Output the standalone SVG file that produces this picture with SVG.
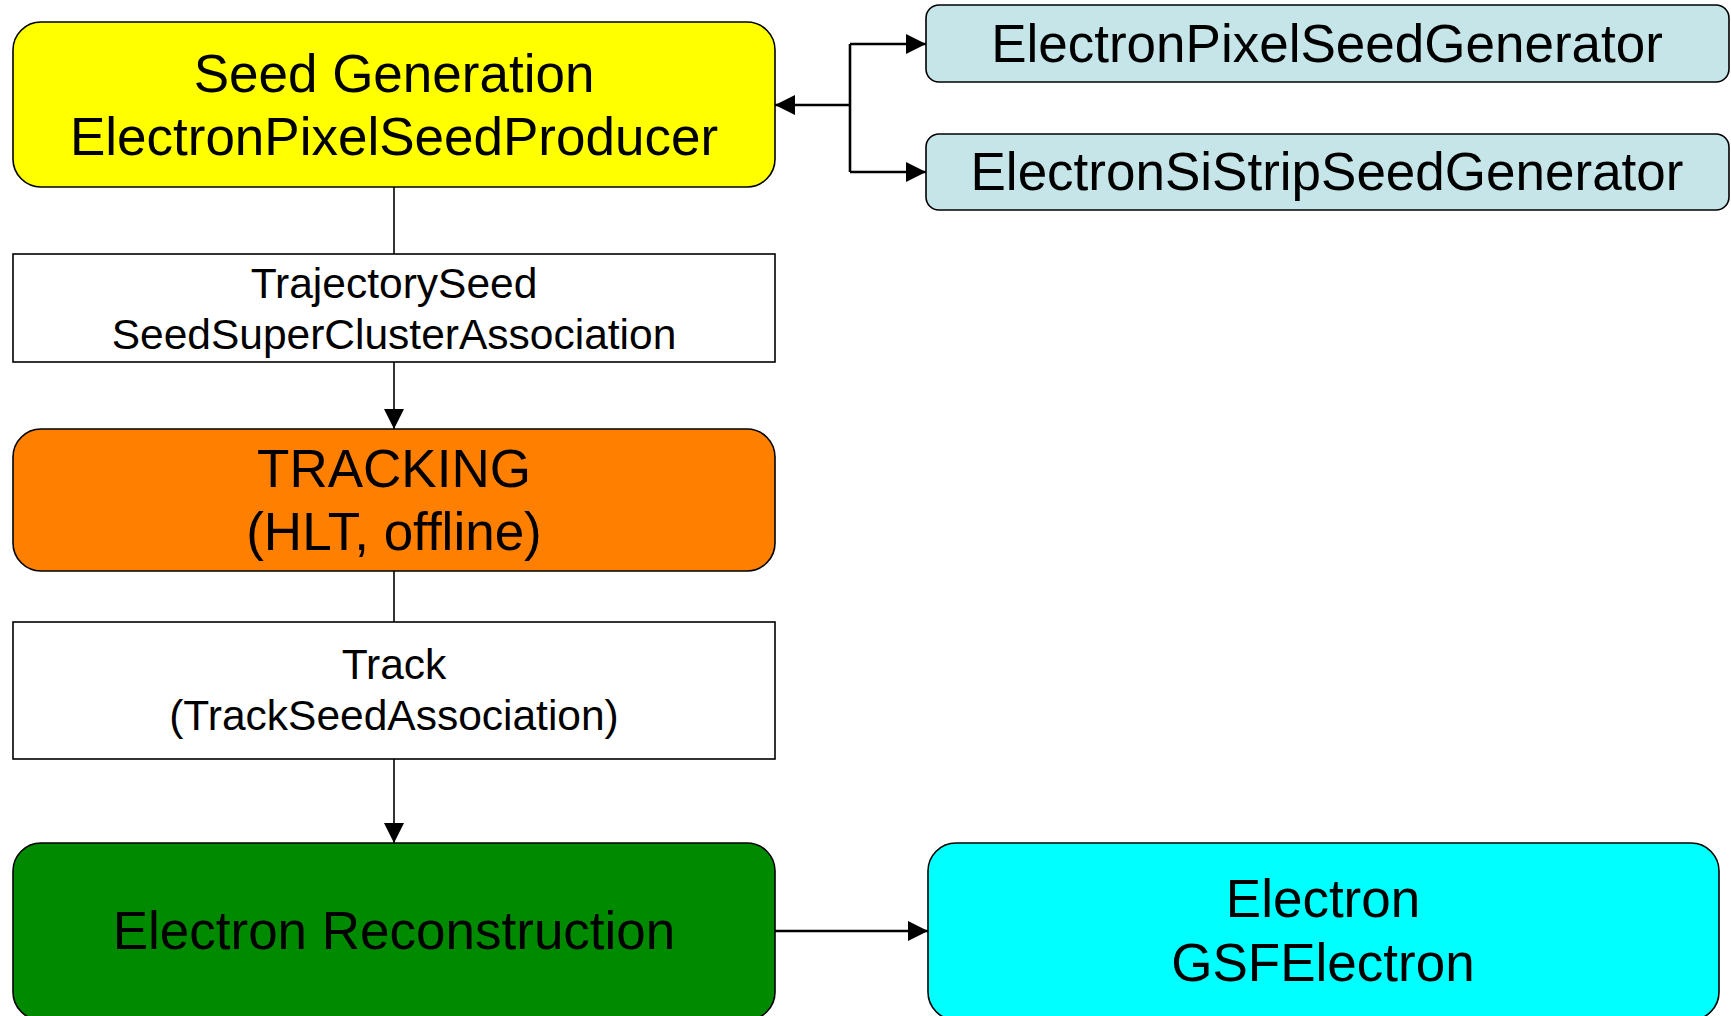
<svg xmlns="http://www.w3.org/2000/svg" width="1731" height="1016" viewBox="0 0 1731 1016">
<defs>
<style>
.box{stroke:#000;stroke-width:1.6}
.t{font-family:"Liberation Sans",Arial,sans-serif;text-anchor:middle;fill:#000}
.big{font-size:53px}
.mid{font-size:42.5px}
.c{stroke:#000;stroke-width:1.6;fill:none}
.cb{stroke:#000;stroke-width:2.6;fill:none}
</style>
<marker id="ah" viewBox="0 0 20 20" refX="20" refY="10" markerWidth="20" markerHeight="20" markerUnits="userSpaceOnUse" orient="auto">
<path d="M0,0 L20,10 L0,20 Z" fill="#000"/>
</marker>
</defs>
<rect width="1731" height="1016" fill="#fff"/>
<g id="connectors">
<line class="c" x1="394" y1="187" x2="394" y2="254"/>
<line class="c" x1="394" y1="362" x2="394" y2="429" marker-end="url(#ah)"/>
<line class="c" x1="394" y1="571" x2="394" y2="622"/>
<line class="c" x1="394" y1="759" x2="394" y2="843" marker-end="url(#ah)"/>
<line class="cb" x1="775" y1="931" x2="928" y2="931" marker-end="url(#ah)"/>
<line class="cb" x1="850" y1="105" x2="775" y2="105" marker-end="url(#ah)"/>
<polyline class="cb" points="850,44 850,172"/>
<line class="cb" x1="850" y1="44" x2="926" y2="44" marker-end="url(#ah)"/>
<line class="cb" x1="850" y1="172" x2="926" y2="172" marker-end="url(#ah)"/>
</g>
<g id="seed-generation">
<rect class="box" x="13" y="22" width="762" height="165" rx="28" fill="#ffff00"/>
<text class="t big" x="394" y="92">Seed Generation</text>
<text class="t big" x="394" y="155">ElectronPixelSeedProducer</text>
</g>
<g id="pixel-seed-generator">
<rect class="box" x="926" y="5" width="803" height="77" rx="13" fill="#c6e5e8"/>
<text class="t big" x="1327" y="62">ElectronPixelSeedGenerator</text>
</g>
<g id="sistrip-seed-generator">
<rect class="box" x="926" y="134" width="803" height="76" rx="13" fill="#c6e5e8"/>
<text class="t big" x="1327" y="190">ElectronSiStripSeedGenerator</text>
</g>
<g id="trajectory-seed">
<rect class="box" x="13" y="254" width="762" height="108" fill="#fff"/>
<text class="t mid" x="394" y="298">TrajectorySeed</text>
<text class="t mid" x="394" y="349">SeedSuperClusterAssociation</text>
</g>
<g id="tracking">
<rect class="box" x="13" y="429" width="762" height="142" rx="28" fill="#ff7f00"/>
<text class="t big" x="394" y="487">TRACKING</text>
<text class="t big" x="394" y="550">(HLT, offline)</text>
</g>
<g id="track">
<rect class="box" x="13" y="622" width="762" height="137" fill="#fff"/>
<text class="t mid" x="394" y="679">Track</text>
<text class="t mid" x="394" y="730">(TrackSeedAssociation)</text>
</g>
<g id="electron-reconstruction">
<rect class="box" x="13" y="843" width="762" height="177" rx="28" fill="#008a00"/>
<text class="t big" x="394" y="949">Electron Reconstruction</text>
</g>
<g id="electron">
<rect class="box" x="928" y="843" width="791" height="177" rx="28" fill="#00ffff"/>
<text class="t big" x="1323" y="917">Electron</text>
<text class="t big" x="1323" y="981">GSFElectron</text>
</g>
</svg>
